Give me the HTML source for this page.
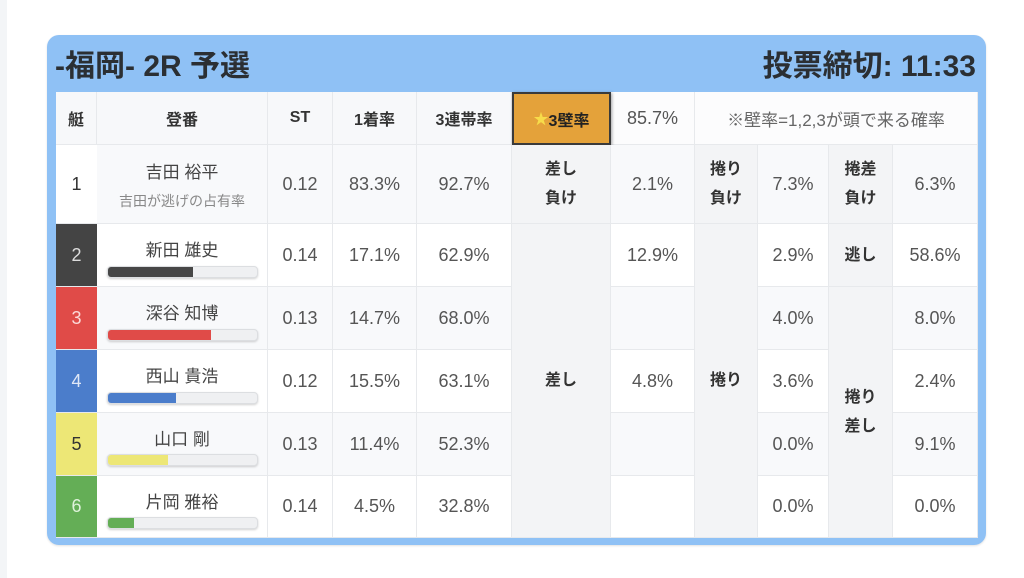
<!DOCTYPE html>
<html>
<head>
<meta charset="utf-8">
<style>
html,body{margin:0;padding:0;}
body{width:1024px;height:578px;background:#fff;position:relative;overflow:hidden;font-family:"Liberation Sans","Noto Sans CJK JP",sans-serif;}
.strip{position:absolute;left:0;top:0;width:7px;height:578px;background:#f3f5f7;}
.card{position:absolute;left:47px;top:35px;width:939px;height:510px;background:#8fc1f5;border-radius:12px;box-shadow:0 1px 2px rgba(0,0,0,0.12);}
.title{position:absolute;top:47px;font-size:30px;font-weight:bold;color:#2b2f33;line-height:40px;white-space:nowrap;}
.c{position:absolute;display:flex;flex-direction:column;align-items:center;justify-content:center;box-sizing:border-box;border-right:1px solid #e7e9ec;border-bottom:1px solid #e7e9ec;text-align:center;color:#555;font-size:18px;white-space:nowrap;}
.h{background:#f7f8fa;color:#333;font-weight:bold;font-size:16px;}
.w{background:#fff;}
.g{background:#f8f9fb;}
.lb{background:#f3f4f6;color:#333;font-weight:bold;font-size:16px;line-height:29px;}
.nm{font-size:17px;color:#444;}
.sub{font-size:14px;color:#888;margin-top:8px;}
.bar{position:absolute;left:10px;width:151px;height:12px;border-radius:4px;background:#eff0f2;border:1px solid #dcdee1;box-sizing:border-box;box-shadow:0 1px 2px rgba(0,0,0,0.18);overflow:hidden;}
.bar i{position:absolute;left:0;top:0;bottom:0;display:block;}
.boat{border-right:none;}
</style>
</head>
<body>
<div class="strip"></div>
<div class="card"></div>
<div class="title" style="left:55px;">-福岡- 2R 予選</div>
<div class="title" style="right:48px;">投票締切: 11:33</div>

<!-- header row -->
<div class="c h" style="left:56px;top:92px;width:41px;height:53px;">艇</div>
<div class="c h" style="left:97px;top:92px;width:171px;height:53px;">登番</div>
<div class="c h" style="left:268px;top:92px;width:65px;height:53px;">ST</div>
<div class="c h" style="left:333px;top:92px;width:84px;height:53px;">1着率</div>
<div class="c h" style="left:417px;top:92px;width:95px;height:53px;">3連帯率</div>
<div class="c" style="left:611px;top:92px;width:84px;height:53px;background:#fcfcfd;">85.7%</div>
<div class="c" style="left:695px;top:92px;width:283px;height:53px;background:#fcfcfd;font-size:17px;color:#666;">※壁率=1,2,3が頭で来る確率</div>
<div class="c" style="left:512px;top:92px;width:99px;height:53px;background:#e4a23a;border:2px solid #3a3a3a;box-shadow:1px 1px 3px rgba(0,0,0,0.35);font-weight:bold;font-size:16px;color:#222;flex-direction:row;"><span style="color:#f7dc4a;font-size:15px;">★</span>3壁率</div>

<!-- row 1 -->
<div class="c w boat" style="left:56px;top:145px;width:41px;height:79px;color:#333;">1</div>
<div class="c g" style="left:97px;top:145px;width:171px;height:79px;"><div class="nm">吉田 裕平</div><div class="sub">吉田が逃げの占有率</div></div>
<div class="c g" style="left:268px;top:145px;width:65px;height:79px;">0.12</div>
<div class="c g" style="left:333px;top:145px;width:84px;height:79px;">83.3%</div>
<div class="c g" style="left:417px;top:145px;width:95px;height:79px;">92.7%</div>
<div class="c lb" style="left:512px;top:145px;width:99px;height:79px;">差し<br>負け</div>
<div class="c g" style="left:611px;top:145px;width:84px;height:79px;">2.1%</div>
<div class="c lb" style="left:695px;top:145px;width:63px;height:79px;">捲り<br>負け</div>
<div class="c g" style="left:758px;top:145px;width:71px;height:79px;">7.3%</div>
<div class="c lb" style="left:829px;top:145px;width:64px;height:79px;">捲差<br>負け</div>
<div class="c g" style="left:893px;top:145px;width:85px;height:79px;">6.3%</div>

<!-- row 2 -->
<div class="c boat" style="left:56px;top:224px;width:41px;height:63px;background:#444;color:#ddd;">2</div>
<div class="c w" style="left:97px;top:224px;width:171px;height:63px;justify-content:flex-start;"><div class="nm" style="margin-top:12px;">新田 雄史</div><div class="bar" style="top:42px;"><i style="width:85px;background:#474747;"></i></div></div>
<div class="c w" style="left:268px;top:224px;width:65px;height:63px;">0.14</div>
<div class="c w" style="left:333px;top:224px;width:84px;height:63px;">17.1%</div>
<div class="c w" style="left:417px;top:224px;width:95px;height:63px;">62.9%</div>
<div class="c w" style="left:611px;top:224px;width:84px;height:63px;">12.9%</div>
<div class="c w" style="left:758px;top:224px;width:71px;height:63px;">2.9%</div>
<div class="c lb" style="left:829px;top:224px;width:64px;height:63px;">逃し</div>
<div class="c w" style="left:893px;top:224px;width:85px;height:63px;">58.6%</div>

<!-- row 3 -->
<div class="c boat" style="left:56px;top:287px;width:41px;height:63px;background:#e04b48;color:#fbd9d8;">3</div>
<div class="c g" style="left:97px;top:287px;width:171px;height:63px;justify-content:flex-start;"><div class="nm" style="margin-top:12px;">深谷 知博</div><div class="bar" style="top:42px;"><i style="width:103px;background:#e04b48;"></i></div></div>
<div class="c g" style="left:268px;top:287px;width:65px;height:63px;">0.13</div>
<div class="c g" style="left:333px;top:287px;width:84px;height:63px;">14.7%</div>
<div class="c g" style="left:417px;top:287px;width:95px;height:63px;">68.0%</div>
<div class="c g" style="left:611px;top:287px;width:84px;height:63px;"></div>
<div class="c g" style="left:758px;top:287px;width:71px;height:63px;">4.0%</div>
<div class="c g" style="left:893px;top:287px;width:85px;height:63px;">8.0%</div>

<!-- row 4 -->
<div class="c boat" style="left:56px;top:350px;width:41px;height:63px;background:#4b7dcb;color:#dfe7f6;">4</div>
<div class="c w" style="left:97px;top:350px;width:171px;height:63px;justify-content:flex-start;"><div class="nm" style="margin-top:12px;">西山 貴浩</div><div class="bar" style="top:42px;"><i style="width:68px;background:#4b7dcb;"></i></div></div>
<div class="c w" style="left:268px;top:350px;width:65px;height:63px;">0.12</div>
<div class="c w" style="left:333px;top:350px;width:84px;height:63px;">15.5%</div>
<div class="c w" style="left:417px;top:350px;width:95px;height:63px;">63.1%</div>
<div class="c w" style="left:611px;top:350px;width:84px;height:63px;">4.8%</div>
<div class="c w" style="left:758px;top:350px;width:71px;height:63px;">3.6%</div>
<div class="c w" style="left:893px;top:350px;width:85px;height:63px;">2.4%</div>

<!-- row 5 -->
<div class="c boat" style="left:56px;top:413px;width:41px;height:63px;background:#ede776;color:#333;">5</div>
<div class="c g" style="left:97px;top:413px;width:171px;height:63px;justify-content:flex-start;"><div class="nm" style="margin-top:12px;">山口 剛</div><div class="bar" style="top:41px;"><i style="width:60px;background:#ede776;"></i></div></div>
<div class="c g" style="left:268px;top:413px;width:65px;height:63px;">0.13</div>
<div class="c g" style="left:333px;top:413px;width:84px;height:63px;">11.4%</div>
<div class="c g" style="left:417px;top:413px;width:95px;height:63px;">52.3%</div>
<div class="c g" style="left:611px;top:413px;width:84px;height:63px;"></div>
<div class="c g" style="left:758px;top:413px;width:71px;height:63px;">0.0%</div>
<div class="c g" style="left:893px;top:413px;width:85px;height:63px;">9.1%</div>

<!-- row 6 -->
<div class="c boat" style="left:56px;top:476px;width:41px;height:62px;background:#64ae56;color:#dff2da;">6</div>
<div class="c w" style="left:97px;top:476px;width:171px;height:62px;justify-content:flex-start;"><div class="nm" style="margin-top:12px;">片岡 雅裕</div><div class="bar" style="top:41px;"><i style="width:26px;background:#64ae56;"></i></div></div>
<div class="c w" style="left:268px;top:476px;width:65px;height:62px;">0.14</div>
<div class="c w" style="left:333px;top:476px;width:84px;height:62px;">4.5%</div>
<div class="c w" style="left:417px;top:476px;width:95px;height:62px;">32.8%</div>
<div class="c w" style="left:611px;top:476px;width:84px;height:62px;"></div>
<div class="c w" style="left:758px;top:476px;width:71px;height:62px;">0.0%</div>
<div class="c w" style="left:893px;top:476px;width:85px;height:62px;">0.0%</div>

<!-- spanning label cells -->
<div class="c lb" style="left:512px;top:224px;width:99px;height:314px;">差し</div>
<div class="c lb" style="left:695px;top:224px;width:63px;height:314px;">捲り</div>
<div class="c lb" style="left:829px;top:287px;width:64px;height:251px;">捲り<br>差し</div>
</body>
</html>
